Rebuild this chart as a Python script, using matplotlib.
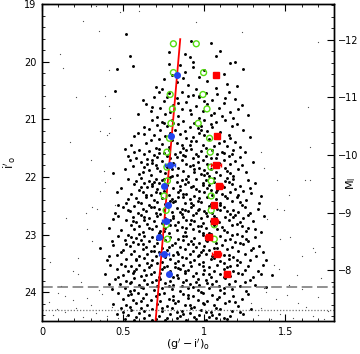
import numpy as np
import matplotlib
matplotlib.use("Agg")
import matplotlib.pyplot as plt
from matplotlib.ticker import MultipleLocator

# distance modulus used for the right-hand absolute magnitude axis
dist_mod = 31.62

# red fiducial line (colour, magnitude) end points
line_col = [0.70, 0.852]
line_mag = [24.5, 19.61]

# green open circles (two columns)
green_col = [0.81, 0.81, 0.79, 0.804, 0.795, 0.786, 0.77, 0.77, 0.773, 0.753, 0.765, 0.765, 0.773,
             0.951, 0.996, 0.992, 1.017, 0.963, 1.033, 1.037, 1.041, 1.043, 1.043, 1.043, 1.062, 1.062]
green_mag = [19.69, 20.19, 20.57, 20.82, 21.07, 21.33, 21.57, 21.83, 22.07, 22.33, 22.58, 22.83, 23.08,
             19.69, 20.19, 20.57, 20.82, 21.07, 21.33, 21.57, 21.83, 22.07, 22.33, 22.58, 22.83, 23.08]

# blue and red binned points with colour errors
bin_mag = [20.24, 21.29, 21.79, 22.16, 22.48, 22.76, 23.05, 23.34, 23.69]
blue_col = [0.833, 0.794, 0.790, 0.753, 0.775, 0.762, 0.724, 0.753, 0.781]
blue_err = [0.01, 0.01, 0.03, 0.01, 0.01, 0.02, 0.01, 0.03, 0.01]
red_col = [1.070, 1.078, 1.071, 1.093, 1.060, 1.063, 1.027, 1.076, 1.140]
red_err = [0.01, 0.01, 0.03, 0.02, 0.01, 0.02, 0.02, 0.03, 0.02]

# selected point sources (black dots), grouped by magnitude band
stars_a = [(0.52,19.52),(0.54,19.90),(0.56,20.07),(0.46,20.13),(0.92,19.64),(1.04,19.68),(1.10,19.81),
    (0.78,19.83),(0.88,19.86),(0.91,19.92),(1.07,19.90),(0.93,20.00),(1.16,20.03),(0.85,20.06),(0.78,20.04),
    (1.19,20.01),(1.24,20.13),(0.93,20.09),(0.88,20.18),(1.12,20.21),(0.97,20.27),(0.75,20.30),(1.02,20.33),
    (0.83,20.36),(1.14,20.38),(0.90,20.41),(0.70,20.44),(1.07,20.46),(0.95,20.48),(0.80,20.24),(1.20,20.42),
    (0.87,20.29),(1.00,20.15)]
stars_b = [(0.45,20.51),(0.72,20.52),(0.78,20.55),(0.86,20.53),(0.93,20.58),(1.01,20.54),(1.08,20.57),
    (1.15,20.52),(0.69,20.61),(0.83,20.63),(0.97,20.62),(1.05,20.66),(1.19,20.64),(0.75,20.68),(0.89,20.70),
    (1.12,20.71),(0.64,20.73),(0.81,20.75),(0.95,20.77),(1.02,20.74),(1.23,20.76),(0.73,20.80),(0.86,20.82),
    (1.09,20.81),(0.99,20.85),(0.67,20.86),(0.79,20.88),(0.92,20.90),(1.16,20.87),(1.04,20.92),(0.84,20.94),
    (0.71,20.96),(0.97,20.97),(1.11,20.95),(1.27,20.93),(0.90,20.60),(1.00,20.69),(0.76,20.91),(1.21,20.83),
    (0.62,20.66),(0.74,20.47),(0.97,20.59),(1.13,20.63),(0.68,20.78),(0.91,20.84),(1.06,20.89),(0.77,20.62),
    (0.84,20.71),(1.18,20.98),(0.59,20.91)]
stars_c = [(0.59,21.24),(0.63,21.25),(0.68,21.02),(0.74,21.04),(0.80,21.01),(0.87,21.03),(0.94,21.06),
    (1.00,21.02),(1.07,21.05),(1.13,21.01),(1.20,21.08),(0.71,21.10),(0.77,21.12),(0.84,21.09),(0.91,21.13),
    (0.98,21.11),(1.05,21.14),(1.17,21.12),(0.66,21.17),(0.73,21.19),(0.82,21.18),(0.88,21.21),(0.96,21.16),
    (1.02,21.20),(1.10,21.22),(1.24,21.19),(0.69,21.27),(0.76,21.29),(0.85,21.26),(0.93,21.30),(1.00,21.28),
    (1.08,21.31),(1.15,21.27),(0.72,21.34),(0.80,21.36),(0.89,21.33),(0.95,21.38),(1.03,21.35),(1.12,21.37),
    (1.19,21.40),(0.64,21.41),(0.74,21.43),(0.83,21.42),(0.91,21.45),(0.99,21.44),(1.06,21.47),(1.14,21.46),
    (0.70,21.49),(0.78,21.48),(0.87,21.50),(1.01,21.49),(1.28,21.31),(0.55,21.44),(0.97,21.24),(0.81,21.06),
    (0.63,21.13),(0.79,21.23),(0.92,21.37),(1.04,21.09),(1.16,21.33),(0.86,21.44),(0.67,21.36),(1.09,21.42),
    (0.75,21.07),(0.98,21.19),(1.22,21.48),(0.57,21.29)]
stars_d = [(0.51,21.52),(0.44,21.93),(0.51,21.86),(0.60,21.53),(0.66,21.55),(0.72,21.51),(0.78,21.54),
    (0.85,21.56),(0.92,21.52),(0.98,21.55),(1.05,21.53),(1.11,21.57),(1.18,21.54),(1.25,21.56),(0.63,21.60),
    (0.69,21.62),(0.75,21.59),(0.82,21.61),(0.88,21.63),(0.95,21.60),(1.01,21.64),(1.08,21.61),(1.15,21.63),
    (1.22,21.65),(0.58,21.67),(0.65,21.69),(0.71,21.66),(0.79,21.68),(0.86,21.70),(0.93,21.67),(0.99,21.71),
    (1.04,21.68),(1.12,21.70),(1.19,21.72),(0.61,21.74),(0.68,21.76),(0.74,21.73),(0.81,21.75),(0.89,21.77),
    (0.96,21.74),(1.02,21.78),(1.09,21.75),(1.16,21.77),(1.30,21.74),(0.56,21.81),(0.63,21.83),(0.70,21.80),
    (0.77,21.82),(0.84,21.84),(0.91,21.81),(0.97,21.85),(1.06,21.82),(1.13,21.84),(1.21,21.86),(0.66,21.88),
    (0.73,21.90),(0.80,21.87),(0.87,21.89),(0.94,21.91),(1.00,21.88),(1.07,21.92),(1.14,21.89),(1.26,21.91),
    (0.60,21.95),(0.67,21.97),(0.76,21.94),(0.83,21.96),(0.90,21.98),(0.98,21.95),(1.03,21.99),(1.10,21.96),
    (1.18,21.98),(0.72,21.58),(0.93,21.79),(1.17,21.60),(0.54,21.71),(0.87,21.62),(1.02,21.93),
    (0.57,21.57),(0.68,21.71),(0.83,21.66),(0.94,21.86),(1.07,21.68),(1.23,21.79),(0.62,21.91),(0.77,21.63),
    (0.89,21.53),(1.00,21.97),(1.12,21.58),(0.71,21.85),(0.96,21.64),(1.16,21.93),(0.80,21.99),(0.53,21.64),
    (1.04,21.87),(0.65,21.78)]
stars_e = [(0.53,22.04),(0.61,22.02),(0.66,22.07),(0.70,22.03),(0.74,22.06),(0.79,22.01),(0.86,22.05),
    (0.90,22.08),(0.95,22.03),(1.01,22.06),(1.06,22.02),(1.13,22.07),(1.18,22.04),(1.27,22.05),
    (0.57,22.12),(0.63,22.10),(0.68,22.15),(0.72,22.11),(0.77,22.14),(0.83,22.09),(0.88,22.13),(0.93,22.16),
    (0.99,22.10),(1.03,22.14),(1.09,22.12),(1.15,22.09),(1.22,22.15),(1.31,22.11),
    (0.49,22.20),(0.60,22.23),(0.65,22.18),(0.71,22.21),(0.75,22.25),(0.81,22.19),(0.85,22.22),(0.92,22.17),
    (0.97,22.24),(1.02,22.20),(1.08,22.23),(1.12,22.18),(1.19,22.21),(1.24,22.25),
    (0.55,22.29),(0.62,22.27),(0.67,22.32),(0.73,22.28),(0.78,22.31),(0.84,22.26),(0.89,22.30),(0.94,22.33),
    (1.00,22.27),(1.05,22.31),(1.11,22.29),(1.16,22.26),(1.21,22.32),(1.29,22.28),
    (0.58,22.37),(0.64,22.35),(0.69,22.40),(0.74,22.36),(0.80,22.39),(0.87,22.34),(0.91,22.38),(0.96,22.41),
    (1.02,22.35),(1.07,22.39),(1.14,22.37),(1.20,22.34),(1.26,22.40),
    (0.52,22.45),(0.59,22.43),(0.66,22.48),(0.71,22.44),(0.76,22.47),(0.82,22.42),(0.88,22.46),(0.93,22.49),
    (0.98,22.43),(1.04,22.47),(1.10,22.45),(1.17,22.42),(1.23,22.48),(1.34,22.46),
    (0.46,22.27),(0.61,22.46),(0.85,22.16),(1.07,22.27),(0.79,22.41),(0.95,22.21),(1.14,22.02),(0.69,22.08),
    (0.58,22.07),(0.76,22.17),(0.89,22.03),(1.04,22.22),(1.17,22.13),(0.64,22.32),(0.81,22.44),(0.97,22.36),
    (1.10,22.49),(1.28,22.19),(0.70,22.26),(0.87,22.29),(0.99,22.14),(1.13,22.33),(0.53,22.39),(0.75,22.03),
    (0.92,22.46),(1.22,22.43),(0.68,22.12),(1.06,22.09),(0.84,22.35),(1.35,22.33),(0.47,22.48),(0.61,22.18)]
stars_f = [(0.50,22.53),(0.57,22.51),(0.62,22.56),(0.67,22.52),(0.72,22.55),(0.77,22.50),(0.83,22.54),
    (0.88,22.57),(0.92,22.52),(0.97,22.55),(1.03,22.51),(1.08,22.56),(1.12,22.53),(1.18,22.57),(1.25,22.52),
    (1.33,22.55),
    (0.54,22.60),(0.59,22.63),(0.64,22.59),(0.70,22.62),(0.75,22.58),(0.80,22.61),(0.86,22.64),(0.90,22.60),
    (0.95,22.63),(1.00,22.59),(1.05,22.62),(1.10,22.58),(1.16,22.64),(1.21,22.61),(1.28,22.63),
    (0.47,22.67),(0.56,22.69),(0.61,22.66),(0.66,22.71),(0.71,22.68),(0.76,22.72),(0.81,22.67),(0.87,22.70),
    (0.93,22.66),(0.98,22.71),(1.02,22.68),(1.07,22.72),(1.13,22.69),(1.19,22.66),(1.24,22.71),(1.37,22.68),
    (0.52,22.75),(0.58,22.78),(0.63,22.74),(0.69,22.77),(0.74,22.80),(0.79,22.75),(0.84,22.79),(0.89,22.74),
    (0.94,22.77),(0.99,22.80),(1.04,22.76),(1.09,22.79),(1.15,22.74),(1.22,22.78),(1.30,22.76),
    (0.55,22.83),(0.60,22.86),(0.65,22.82),(0.70,22.85),(0.76,22.88),(0.82,22.83),(0.86,22.87),(0.91,22.82),
    (0.96,22.85),(1.01,22.88),(1.06,22.84),(1.11,22.87),(1.17,22.83),(1.23,22.86),(1.27,22.89),
    (0.49,22.92),(0.57,22.90),(0.62,22.95),(0.68,22.91),(0.73,22.94),(0.78,22.98),(0.83,22.92),(0.88,22.96),
    (0.93,22.90),(0.97,22.94),(1.03,22.97),(1.08,22.91),(1.14,22.95),(1.20,22.99),(1.26,22.93),(1.35,22.96),
    (0.41,22.88),(0.45,22.62),(0.72,22.98),(0.99,22.97),
    (0.53,22.57),(0.69,22.53),(0.85,22.61),(0.96,22.58),(1.14,22.59),(0.63,22.69),(0.79,22.83),(0.92,22.74),
    (1.06,22.67),(1.20,22.81),(0.56,22.77),(0.73,22.64),(0.89,22.89),(1.01,22.63),(1.27,22.66),(0.66,22.88),
    (0.81,22.71),(0.98,22.86),(1.12,22.92),(0.60,22.99),(0.75,22.93),(1.04,22.99),(1.31,22.91),(0.44,22.73),
    (0.86,22.55),(1.18,22.70)]
stars_g = [(0.47,23.03),(0.53,23.01),(0.58,23.06),(0.63,23.02),(0.68,23.05),(0.73,23.00),(0.79,23.04),
    (0.84,23.07),(0.89,23.02),(0.94,23.06),(0.99,23.01),(1.04,23.05),(1.10,23.03),(1.16,23.07),(1.23,23.02),
    (1.31,23.05),
    (0.51,23.10),(0.56,23.13),(0.61,23.09),(0.66,23.12),(0.71,23.15),(0.76,23.10),(0.82,23.14),(0.87,23.09),
    (0.92,23.12),(0.97,23.15),(1.02,23.11),(1.07,23.14),(1.13,23.09),(1.19,23.13),(1.27,23.11),
    (0.44,23.18),(0.54,23.20),(0.59,23.17),(0.64,23.22),(0.69,23.19),(0.74,23.23),(0.80,23.18),(0.85,23.21),
    (0.90,23.17),(0.95,23.22),(1.00,23.19),(1.06,23.23),(1.11,23.18),(1.17,23.21),(1.24,23.17),(1.34,23.20),
    (0.50,23.26),(0.57,23.29),(0.62,23.25),(0.67,23.28),(0.72,23.31),(0.77,23.26),(0.83,23.30),(0.88,23.25),
    (0.93,23.28),(0.98,23.31),(1.03,23.27),(1.09,23.30),(1.14,23.25),(1.21,23.29),(1.29,23.27),
    (0.46,23.35),(0.55,23.33),(0.60,23.38),(0.65,23.34),(0.70,23.37),(0.75,23.33),(0.81,23.36),(0.86,23.39),
    (0.91,23.34),(0.96,23.37),(1.01,23.33),(1.05,23.38),(1.12,23.35),(1.18,23.39),(1.25,23.34),(1.32,23.37),
    (0.52,23.42),(0.58,23.45),(0.63,23.41),(0.68,23.44),(0.74,23.47),(0.79,23.42),(0.84,23.46),(0.89,23.41),
    (0.94,23.44),(0.99,23.48),(1.04,23.43),(1.10,23.46),(1.15,23.42),(1.22,23.47),(1.28,23.44),(1.38,23.45),
    (0.36,23.23),(0.40,23.44),(0.43,23.12),
    (0.55,23.04),(0.71,23.08),(0.87,23.03),(1.01,23.09),(1.17,23.01),(0.62,23.17),(0.78,23.21),(0.93,23.16),
    (1.08,23.24),(1.22,23.14),(0.49,23.31),(0.69,23.29),(0.84,23.33),(0.99,23.26),(1.15,23.36),(1.30,23.24),
    (0.58,23.43),(0.76,23.39),(0.91,23.47),(1.06,23.41),(1.20,23.44),(0.65,23.49),(0.82,23.49),(0.97,23.36),
    (1.12,23.49),(0.52,23.16),(0.74,23.05),(1.26,23.08),(1.36,23.31),(0.41,23.38)]
stars_h = [(0.42,23.52),(0.49,23.51),(0.55,23.55),(0.60,23.52),(0.66,23.56),(0.71,23.50),(0.77,23.54),
    (0.82,23.57),(0.87,23.52),(0.92,23.55),(0.97,23.51),(1.03,23.56),(1.08,23.53),(1.14,23.57),(1.20,23.52),
    (1.27,23.55),(1.36,23.53),
    (0.46,23.60),(0.53,23.63),(0.58,23.59),(0.63,23.62),(0.69,23.65),(0.74,23.60),(0.79,23.64),(0.85,23.59),
    (0.90,23.62),(0.95,23.66),(1.00,23.61),(1.06,23.64),(1.12,23.60),(1.18,23.63),(1.25,23.61),(1.33,23.64),
    (0.39,23.69),(0.50,23.70),(0.56,23.67),(0.61,23.72),(0.67,23.68),(0.72,23.73),(0.78,23.69),(0.83,23.71),
    (0.88,23.67),(0.93,23.72),(0.99,23.69),(1.04,23.74),(1.10,23.68),(1.16,23.72),(1.23,23.69),(1.30,23.73),
    (1.42,23.70),
    (0.45,23.77),(0.52,23.80),(0.57,23.76),(0.63,23.79),(0.68,23.82),(0.73,23.77),(0.79,23.81),(0.84,23.76),
    (0.89,23.79),(0.95,23.82),(1.01,23.78),(1.07,23.81),(1.13,23.76),(1.19,23.80),(1.28,23.78),
    (0.48,23.86),(0.54,23.84),(0.60,23.88),(0.65,23.85),(0.71,23.89),(0.76,23.84),(0.81,23.87),(0.86,23.90),
    (0.91,23.85),(0.97,23.88),(1.02,23.84),(1.09,23.89),(1.15,23.86),(1.22,23.90),(1.31,23.87),
    (0.43,23.94),(0.51,23.92),(0.57,23.96),(0.62,23.93),(0.69,23.97),(0.74,23.92),(0.80,23.95),(0.85,23.98),
    (0.90,23.93),(0.96,23.96),(1.03,23.92),(1.10,23.97),(1.17,23.94),(1.26,23.98),
    (0.51,23.55),(0.67,23.53),(0.84,23.58),(0.99,23.54),(1.16,23.55),(0.57,23.64),(0.73,23.67),(0.88,23.63),
    (1.03,23.68),(1.21,23.66),(0.47,23.74),(0.64,23.71),(0.81,23.74),(0.96,23.77),(1.12,23.73),(0.55,23.82),
    (0.70,23.79),(0.87,23.83),(1.05,23.85),(1.25,23.83),(0.61,23.91),(0.78,23.89),(0.93,23.91),(1.12,23.93),
    (0.41,23.86),(1.35,23.68),(0.54,23.98),(0.98,23.99),(0.75,23.56),(1.38,23.91)]
stars_i = [(0.47,24.02),(0.53,24.05),(0.59,24.01),(0.64,24.04),(0.70,24.07),(0.75,24.02),(0.81,24.06),
    (0.87,24.03),(0.93,24.07),(0.99,24.02),(1.05,24.05),(1.12,24.01),(1.18,24.06),(1.27,24.03),
    (0.50,24.11),(0.56,24.14),(0.62,24.10),(0.67,24.13),(0.73,24.16),(0.78,24.11),(0.84,24.15),(0.90,24.10),
    (0.96,24.13),(1.02,24.16),(1.08,24.12),(1.15,24.15),(1.23,24.11),
    (0.44,24.20),(0.52,24.22),(0.58,24.19),(0.65,24.23),(0.71,24.20),(0.77,24.24),(0.82,24.19),(0.88,24.22),
    (0.94,24.25),(1.00,24.20),(1.06,24.23),(1.13,24.19),(1.21,24.24),
    (0.49,24.28),(0.55,24.31),(0.61,24.27),(0.68,24.30),(0.74,24.33),(0.80,24.28),(0.86,24.32),(0.92,24.27),
    (0.98,24.31),(1.04,24.34),(1.10,24.29),(1.17,24.32),(1.29,24.30),
    (0.46,24.37),(0.53,24.40),(0.60,24.36),(0.66,24.39),(0.72,24.42),(0.79,24.37),(0.85,24.41),(0.91,24.36),
    (0.97,24.39),(1.03,24.43),(1.09,24.38),(1.16,24.41),(1.24,24.37),
    (0.51,24.46),(0.57,24.48),(0.63,24.45),(0.70,24.47),(0.76,24.49),(0.83,24.45),(0.89,24.48),(0.95,24.46),
    (1.01,24.49),(1.07,24.45),(1.14,24.47),
    (0.55,24.03),(0.72,24.04),(0.90,24.05),(1.09,24.08),(0.61,24.16),(0.81,24.13),(0.99,24.18),(1.19,24.17),
    (0.54,24.26),(0.74,24.27),(0.91,24.23),(1.07,24.27),(0.63,24.33),(0.83,24.35),(1.01,24.35),(1.22,24.34),
    (0.58,24.43),(0.77,24.44),(0.94,24.43),(1.12,24.44),(0.68,24.49),(0.87,24.38),(1.05,24.40),(0.50,24.35)]

# rejected sources (tiny grey dots)
faint = [(0.33,19.03),(0.48,19.14),(0.60,19.13),(0.25,19.29),(0.35,19.46),(0.11,19.87),(0.13,20.11),
    (0.41,20.15),(0.21,20.62),(0.39,20.60),(0.41,20.77),(0.42,20.97),(0.36,21.20),(0.41,21.24),(0.40,21.28),
    (0.17,21.39),(0.30,21.71),(0.38,21.89),(0.95,19.31),(1.23,19.48),(1.70,19.66),(1.64,20.79),(1.65,21.48),
    (1.35,21.56),(0.39,22.08),(0.36,22.25),(0.31,22.53),(0.34,22.55),(0.45,22.48),(0.27,22.62),(0.22,23.40),
    (0.19,23.64),(0.22,23.69),(0.05,23.48),(1.45,22.55),(1.49,22.57),(1.39,22.73),(1.53,23.04),(1.47,23.08),
    (1.67,23.24),(1.68,23.31),(1.60,23.38),(1.43,23.53),(1.46,23.60),(1.57,23.70),(1.72,23.76),(1.65,22.06),
    (1.62,22.06),(1.45,22.06),(1.37,21.85),(1.52,22.31),(0.28,22.91),(0.15,22.71),(0.31,23.12),
    (0.10,24.02),(0.14,24.06),(0.19,24.14),(0.37,24.04),(0.04,24.17),(0.30,24.23),(0.43,24.25),(0.07,24.40),
    (0.25,24.43),(0.14,24.35),(0.40,24.42),(0.33,24.36),(0.52,24.41),(0.47,24.45),(0.21,24.27),(0.09,24.29),
    (0.36,24.48),(0.28,24.10),(1.38,24.00),(1.44,24.12),(1.51,24.05),(1.58,24.18),(1.63,24.26),(1.70,24.09),
    (1.76,24.33),(1.47,24.38),(1.55,24.44),(1.35,24.28),(1.67,24.41),(1.74,24.47),(1.41,24.46),(1.29,24.19),
    (1.33,24.40),(1.60,23.95),(1.52,23.87),(1.37,23.92),(0.35,23.97),(0.24,23.83),(0.12,23.90)]

stars = stars_a + stars_b + stars_c + stars_d + stars_e + stars_f + stars_g + stars_h + stars_i
star_col = [s[0] for s in stars]
star_mag = [s[1] for s in stars]

plt.rcParams['font.family'] = ['DejaVu Sans']
fig = plt.figure(figsize=(3.6, 3.54), dpi=100)
ax = fig.add_axes([0.1167, 0.0932, 0.8111, 0.8955])

ax.scatter([f[0] for f in faint], [f[1] for f in faint], s=0.8, c='0.3', linewidths=0, zorder=1)
ax.scatter(star_col, star_mag, s=4.5, c='black', linewidths=0, zorder=2)

ax.axhline(23.91, color='0.45', lw=1.1, ls=(0, (7, 3)), zorder=2)
ax.axhline(24.31, color='0.45', lw=0.9, ls=(0, (1, 1.5)), zorder=2)
ax.plot(line_col, line_mag, color='red', lw=1.3, zorder=3)

ax.scatter(green_col, green_mag, s=18, facecolors='none', edgecolors='#55dd11', linewidths=1.0, zorder=4)
ax.errorbar(blue_col, bin_mag, xerr=blue_err, fmt='o', ms=4, color='#2244ee', mec='#2244ee',
            elinewidth=1, capsize=1.5, zorder=5)
ax.errorbar(red_col, bin_mag, xerr=red_err, fmt='s', ms=3.8, color='red', mec='red',
            elinewidth=1, capsize=1.5, zorder=5)

ax.set_xlim(0, 1.8)
ax.set_ylim(24.5, 19)
ax.xaxis.set_minor_locator(MultipleLocator(0.1))
ax.yaxis.set_major_locator(MultipleLocator(1))
ax.yaxis.set_minor_locator(MultipleLocator(0.2))
ax.set_xticks([0, 0.5, 1, 1.5])
ax.set_xticklabels(['0', '0.5', '1', '1.5'])
ax.tick_params(which='both', direction='in', top=True, right=False, labelsize=7, pad=4)
ax.tick_params(which='major', length=5, width=0.8)
ax.tick_params(which='minor', length=2.5, width=0.6)

ax2 = ax.twinx()
ax2.set_ylim(24.5 - dist_mod, 19 - dist_mod)
ax2.yaxis.set_major_locator(MultipleLocator(1))
ax2.yaxis.set_minor_locator(MultipleLocator(0.2))
ax2.tick_params(which='both', direction='in', labelsize=7, pad=3)
ax2.tick_params(which='major', length=5, width=0.8)
ax2.tick_params(which='minor', length=2.5, width=0.6)

for a in (ax, ax2):
    for sp in a.spines.values():
        sp.set_linewidth(1.0)

ax.set_xlabel(r"$(\mathrm{g'}-\mathrm{i'})_\mathrm{o}$", fontsize=8, labelpad=0)
ax.set_ylabel(r"$\mathrm{i'_o}$", fontsize=8.5, labelpad=4)
# M_I sits in the tick-label column, between the -10 and -9 labels
fig.text(351 / 360, 1 - 183 / 354, r"$\mathrm{M_I}$", fontsize=8, rotation=90, ha='center', va='center')

fig.savefig("out.png", dpi=100)
